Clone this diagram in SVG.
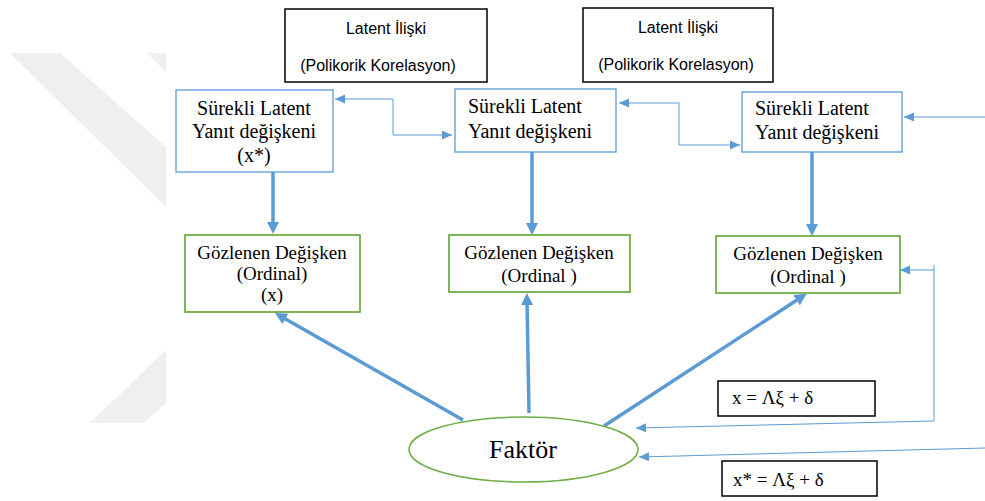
<svg xmlns="http://www.w3.org/2000/svg" width="985" height="501" viewBox="0 0 985 501">
  <style>
    .sans { font-family: "Liberation Sans", Arial, sans-serif; font-size: 16px; fill: #000; }
    .serif { font-family: "Liberation Serif", "Times New Roman", serif; fill: #000; }
    .lat { font-size: 20px; }
    .obs { font-size: 19px; }
    .eq { font-size: 19px; }
    .blackbox { fill: #fff; stroke: #000; stroke-width: 1.5; }
    .bluebox { fill: #fff; stroke: #5b9bd5; stroke-width: 1.3; }
    .greenbox { fill: #fff; stroke: #70ad47; stroke-width: 1.8; }
    .thick { fill: none; stroke: #5b9bd5; stroke-width: 3.5; marker-end: url(#headBig); }
    .thin { fill: none; stroke: #5b9bd5; stroke-width: 1; }
    .watermark { fill: #efefef; }
  </style>
  <defs>
    <marker id="headBig" markerUnits="userSpaceOnUse" markerWidth="14" markerHeight="14" refX="4" refY="6" orient="auto">
      <path d="M0,0 L12,6 L0,12 z" fill="#5b9bd5"/>
    </marker>
    <marker id="headSmall" markerUnits="userSpaceOnUse" markerWidth="12" markerHeight="10" refX="10" refY="4.5" orient="auto-start-reverse">
      <path d="M0,0 L10,4.5 L0,9 z" fill="#5b9bd5"/>
    </marker>
  </defs>

  <rect width="985" height="501" fill="#fff"/>

  <!-- faint background mark on the left edge -->
  <g id="watermark">
    <polygon class="watermark" points="10,53 60,53 166,147 166,207"/>
    <polygon class="watermark" points="147,53 166,53 166,72"/>
    <polygon class="watermark" points="90,423 143,423 166,403 166,350"/>
  </g>

  <!-- connectors -->
  <g id="connectors">
    <path class="thick" d="M273,172 V226"/>
    <path class="thick" d="M532,152 V227"/>
    <path class="thick" d="M812,152 V228"/>
    <path class="thick" d="M463,420 L282,317"/>
    <path class="thick" d="M529,413 L527,301"/>
    <path class="thick" d="M604,426 L800,298"/>

    <path class="thin" d="M335,99 H393 V135 H452" marker-start="url(#headSmall)" marker-end="url(#headSmall)"/>
    <path class="thin" d="M619,103 H679 V145 H740" marker-start="url(#headSmall)" marker-end="url(#headSmall)"/>
    <path class="thin" d="M985,117 H904" marker-end="url(#headSmall)"/>
    <path class="thin" d="M934,265 V421 L636,428" marker-end="url(#headSmall)"/>
    <path class="thin" d="M934,270 H900" marker-end="url(#headSmall)"/>
    <path class="thin" d="M985,448 L639,457" marker-end="url(#headSmall)"/>
  </g>

  <!-- latent relation boxes -->
  <g id="latent-relation-1">
    <rect class="blackbox" x="285" y="9" width="202" height="73"/>
    <text class="sans" x="386" y="34" text-anchor="middle">Latent İlişki</text>
    <text class="sans" x="378" y="71" text-anchor="middle">(Polikorik Korelasyon)</text>
  </g>
  <g id="latent-relation-2">
    <rect class="blackbox" x="583" y="8" width="190" height="74"/>
    <text class="sans" x="678" y="33" text-anchor="middle">Latent İlişki</text>
    <text class="sans" x="676" y="70" text-anchor="middle">(Polikorik Korelasyon)</text>
  </g>

  <!-- continuous latent response variables -->
  <g id="latent-1">
    <rect class="bluebox" x="176" y="90" width="157" height="82"/>
    <text class="serif lat" x="254" y="115" text-anchor="middle">Sürekli Latent</text>
    <text class="serif lat" x="254" y="138" text-anchor="middle">Yanıt değişkeni</text>
    <text class="serif lat" x="254" y="162" text-anchor="middle">(x*)</text>
  </g>
  <g id="latent-2">
    <rect class="bluebox" x="455" y="89" width="161" height="63"/>
    <text class="serif lat" x="468" y="113">Sürekli Latent</text>
    <text class="serif lat" x="468" y="138">Yanıt değişkeni</text>
  </g>
  <g id="latent-3">
    <rect class="bluebox" x="742" y="92" width="160" height="60"/>
    <text class="serif lat" x="755" y="115">Sürekli Latent</text>
    <text class="serif lat" x="755" y="139">Yanıt değişkeni</text>
  </g>

  <!-- observed ordinal variables -->
  <g id="observed-1">
    <rect class="greenbox" x="185" y="235" width="175" height="77"/>
    <text class="serif obs" x="272" y="259" text-anchor="middle">Gözlenen Değişken</text>
    <text class="serif obs" x="272" y="280" text-anchor="middle">(Ordinal)</text>
    <text class="serif obs" x="272" y="301" text-anchor="middle">(x)</text>
  </g>
  <g id="observed-2">
    <rect class="greenbox" x="449" y="235" width="181" height="57"/>
    <text class="serif obs" x="539" y="259" text-anchor="middle">Gözlenen Değişken</text>
    <text class="serif obs" x="539" y="282" text-anchor="middle">(Ordinal )</text>
  </g>
  <g id="observed-3">
    <rect class="greenbox" x="716" y="236" width="184" height="57"/>
    <text class="serif obs" x="808" y="260" text-anchor="middle">Gözlenen Değişken</text>
    <text class="serif obs" x="808" y="283" text-anchor="middle">(Ordinal )</text>
  </g>

  <!-- factor -->
  <g id="factor">
    <ellipse cx="523.5" cy="449.5" rx="114.5" ry="32.5" fill="#fff" stroke="#70ad47" stroke-width="1.5"/>
    <text class="serif" x="523" y="458" font-size="26" text-anchor="middle">Faktör</text>
  </g>

  <!-- model equations -->
  <g id="equation-x">
    <rect class="blackbox" x="718" y="381" width="157" height="35"/>
    <text class="serif eq" x="732" y="404">x = Λξ + δ</text>
  </g>
  <g id="equation-xstar">
    <rect class="blackbox" x="722" y="461" width="155" height="35"/>
    <text class="serif eq" x="733" y="486">x* = Λξ + δ</text>
  </g>
</svg>
